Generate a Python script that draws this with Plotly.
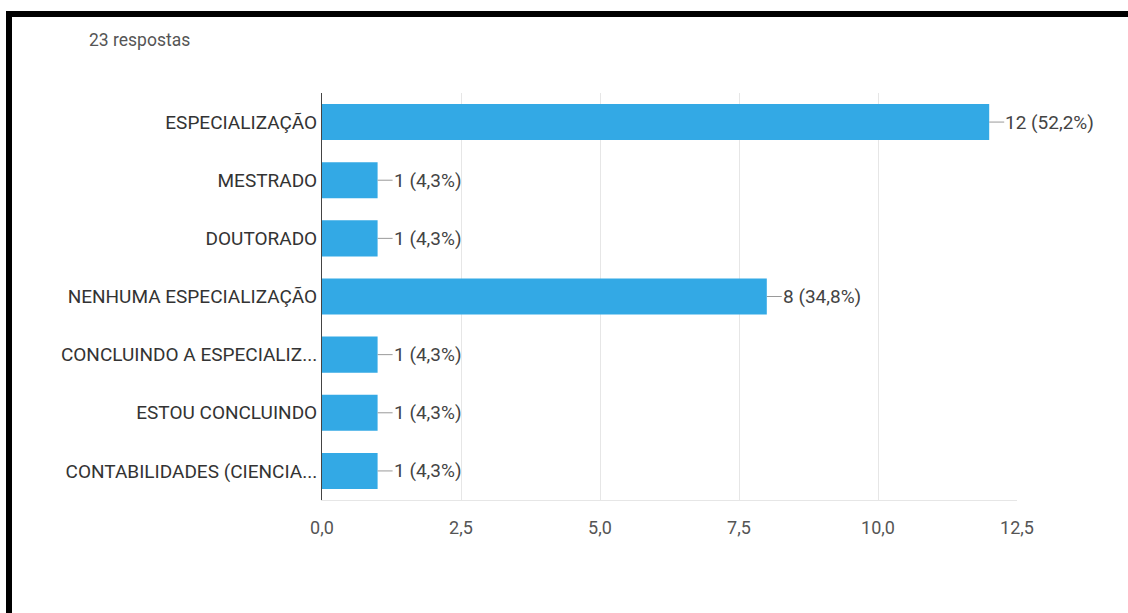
import plotly.graph_objects as go

categories = [
    "ESPECIALIZAÇÃO",
    "MESTRADO",
    "DOUTORADO",
    "NENHUMA ESPECIALIZAÇÃO",
    "CONCLUINDO A ESPECIALIZ...",
    "ESTOU CONCLUINDO",
    "CONTABILIDADES (CIENCIA...",
]
counts = [12, 1, 1, 8, 1, 1, 1]
percents = ["52,2%", "4,3%", "4,3%", "34,8%", "4,3%", "4,3%", "4,3%"]
total_label = "23 respostas"

W, H = 1128, 613
L, R, T, B = 322, 1017, 93, 500  # plot area in pixels

def px_x(px):
    return (px - L) / (R - L)

def px_y(py):
    return (B - py) / (B - T)

FONT = "Roboto, Arial, sans-serif"
BAR = "#33a9e5"

fig = go.Figure()
fig.add_trace(go.Bar(
    x=counts, y=categories, orientation="h",
    marker=dict(color=BAR, line=dict(width=0)),
    hoverinfo="x+y",
))

for c, v, p in zip(categories, counts, percents):
    fig.add_annotation(
        x=v, y=c, xref="x", yref="y",
        text=f"{v} ({p})", showarrow=True, arrowhead=0, arrowwidth=1,
        arrowcolor="#9a9a9a", ax=15, ay=0, xanchor="left", yanchor="middle",
        font=dict(family=FONT, size=19, color="#444444"), borderpad=0,
    )

fig.add_annotation(
    x=px_x(87), y=px_y(40), xref="paper", yref="paper",
    text=total_label, showarrow=False, xanchor="left", yanchor="middle",
    font=dict(family=FONT, size=17.5, color="#555555"),
)

# black frame (top and left edges)
fig.add_shape(type="rect", xref="paper", yref="paper",
              x0=px_x(6), x1=px_x(1128), y0=px_y(17), y1=px_y(11),
              fillcolor="black", line=dict(width=0), layer="above")
fig.add_shape(type="rect", xref="paper", yref="paper",
              x0=px_x(6), x1=px_x(12), y0=px_y(613), y1=px_y(11),
              fillcolor="black", line=dict(width=0), layer="above")

fig.update_layout(
    width=W, height=H,
    margin=dict(l=L, r=W - R, t=T, b=H - B, pad=0),
    paper_bgcolor="white", plot_bgcolor="white",
    separators=",.",
    bargap=0.38,
    showlegend=False,
    font=dict(family=FONT, size=18, color="#444444"),
    xaxis=dict(
        range=[0, 12.5], dtick=2.5, tick0=0, tickformat=".1f",
        showgrid=True, gridcolor="#e6e6e6", gridwidth=1,
        zeroline=False, showline=True, linecolor="#e6e6e6", linewidth=1,
        ticks="outside", ticklen=11, tickcolor="rgba(0,0,0,0)",
        tickfont=dict(family=FONT, size=18, color="#555555"),
        fixedrange=True,
    ),
    yaxis=dict(
        autorange="reversed", showgrid=False, zeroline=False,
        showline=True, linecolor="#444444", linewidth=1,
        ticks="", tickfont=dict(family=FONT, size=19, color="#333333"),
        fixedrange=True,
    ),
)

fig.write_html("out.html")
